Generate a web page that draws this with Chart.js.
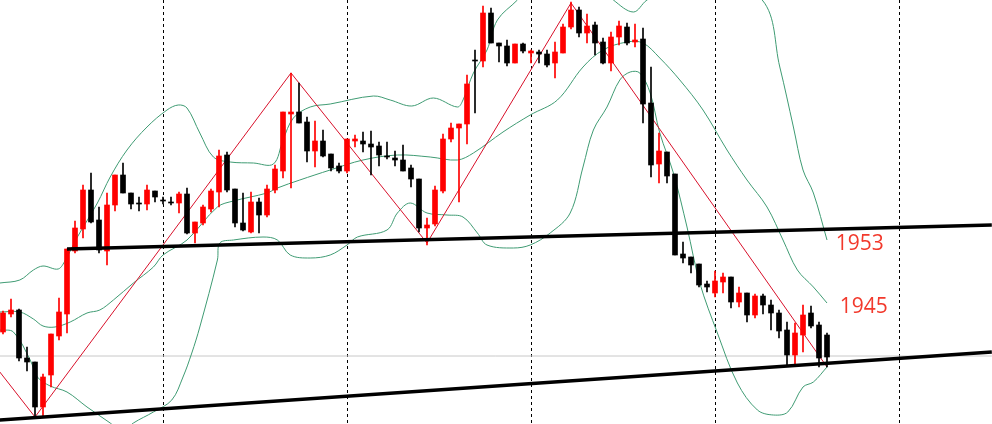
<!DOCTYPE html>
<html><head><meta charset="utf-8">
<script src="https://cdn.jsdelivr.net/npm/chart.js@4"></script>
<style>html,body{margin:0;padding:0;background:#fff}#w{width:992px;height:424px}</style>
</head><body><div id="w"><canvas id="c"></canvas></div>
<script>
// Price levels (axis runs downward, top = 0)
const openP  = [332,314,310,358,362,407,375,336,314,251,229,190,220,251,205,175,193,203,204,191,200,202,203,194,233,223,209,192,155,189,223,232,202,215,190,171,114,112,122,151,141,154,166,171,141,141,144,146,156,158,160,168,179,228,224,191,139,128,124,60,61,13,43,46,63,44,53,52,54,63,53,27,10,33,25,42,63,37,27,42,39,103,164,152,174,254,257,264,284,293,282,277,302,293,315,296,305,313,330,355,335,313,325,335];
const highP  = [311,299,309,347,362,374,334,298,249,221,185,173,207,193,175,163,193,197,185,191,197,197,192,188,222,205,189,150,152,189,193,192,198,185,165,112,73,83,117,121,130,154,163,139,135,132,131,142,142,151,145,165,179,218,186,134,123,124,75,50,6,8,43,40,44,43,50,50,50,42,24,2,7,14,22,38,32,21,23,24,28,67,133,152,174,242,257,264,281,271,273,277,287,293,294,294,300,310,322,323,305,306,322,333];
const lowP   = [334,317,361,371,417,417,387,340,333,253,238,223,253,265,211,193,209,211,210,202,204,205,213,234,243,225,212,207,192,227,231,233,233,217,193,178,188,123,162,167,157,171,173,173,147,152,175,166,159,166,171,187,232,245,226,193,142,202,144,113,67,43,62,66,63,53,63,63,67,78,53,29,37,43,55,64,71,45,45,47,123,177,183,183,255,263,273,287,292,297,293,308,307,322,318,314,330,338,365,365,352,328,367,367];
const closeP = [313,310,358,362,407,377,334,312,249,228,190,222,250,205,175,193,204,204,190,197,201,203,194,233,222,207,191,156,190,223,230,202,215,189,169,112,112,123,151,141,156,168,171,139,139,144,147,155,157,160,171,179,228,225,190,139,128,124,84,61,13,43,46,63,44,51,51,54,65,52,27,10,33,26,43,63,37,26,43,40,104,165,151,176,255,258,265,285,287,281,277,302,293,315,296,305,313,331,355,333,315,326,358,357];

// Bollinger bands: [candle index, level]
const bandUpper = [[-0.4,283],[2.1,280],[3.8,270],[5,266],[6.9,269],[7.8,260],[9.3,237],[11.8,203],[13.4,177],[15.5,150],[18,127],[20.5,110],[21.9,105],[23,108],[24.6,133],[26.3,157],[28.4,162],[31.3,163],[33.8,164],[35,140],[36.3,118],[38.4,107],[40.9,104],[46.3,96],[48.4,100],[51.1,106],[53.8,98],[56.8,107],[57.5,100],[58.8,73],[60.5,50],[61.8,20],[64.3,0],[67.1,-25],[72,-30],[76.3,0],[78.8,12],[80.5,0],[86.8,-30],[94.9,0],[97.1,67],[98.8,127],[100,170],[101.3,193],[103,240]];
const bandMiddle = [[-0.4,312],[2.1,312],[3.8,319],[5,326],[6.5,327],[8.4,322],[10.5,313],[12.1,310],[13.8,300],[16.3,283],[18.8,267],[20,255],[23,240],[26.8,207],[28.8,201],[33,193],[34.3,188],[37.1,180],[40.9,170],[45,160],[49.3,155],[53.4,157],[56.8,160],[58.8,153],[62.5,132],[65.9,115],[69.3,100],[72.5,67],[75,50],[78,42],[80,43],[82.1,58],[84.6,80],[87.5,110],[90.5,150],[93,180],[95.5,207],[97.5,240],[99.3,270],[101.3,287],[103,303]];
const bandLower = [[-0.4,330],[1.3,332],[3.4,360],[4.3,377],[5.9,386],[8,392],[10.5,407],[13.4,423],[14.9,432],[16.3,423],[18.8,412],[21.1,400],[22.5,377],[23.6,353],[24.6,327],[26.8,260],[27.1,243],[28.8,240],[32.5,237],[34.3,240],[35.9,255],[38.4,258],[40.9,255],[43,245],[44.3,237],[48,230],[49.3,213],[50.9,203],[53,213],[55.5,215],[57.5,217],[59.3,233],[60.5,245],[63.8,248],[65.9,245],[68.4,233],[70.9,213],[72.5,167],[73.8,130],[75.5,107],[77.1,80],[78.4,72],[79.6,73],[80.9,93],[82.1,133],[83.8,173],[85.5,227],[87.1,283],[89.3,333],[91.8,383],[94.3,410],[96.3,415],[98.1,412],[100,387],[101.3,382],[103,367]];
const zigzag = [[-0.4,372],[4,417],[36,73],[53,243],[71,3],[103,367]];
const upperTrend = [[8,249],[123.6,225]];
const lowerTrend = [[-0.4,420],[123.6,352]];
const refLevel = 356;
const gridIdx = [20,43,66,89,112];
const notes = [{text:'1953', x:104.1, y:244},{text:'1945', x:104.6, y:307}];

const idx = openP.map((_, i) => i);
const pts = a => a.map(p => ({x:p[0], y:p[1]}));
const up = i => closeP[i] < openP[i];
const col = ctx => up(ctx.dataIndex) ? '#ff0000' : '#000000';

const notePlugin = {
  id:'notes',
  afterDatasetsDraw(chart){
    const c = chart.ctx, xs = chart.scales.x, ys = chart.scales.y;
    c.save(); c.fillStyle = '#f2392c'; c.font = '21px "Open Sans"'; c.textBaseline = 'middle';
    notes.forEach(n => c.fillText(n.text, xs.getPixelForValue(n.x), ys.getPixelForValue(n.y)));
    c.restore();
  }
};

const line = (data, color, width, order) => ({type:'line', data:pts(data), borderColor:color, borderWidth:width, pointRadius:0, tension:0, order, fill:false});

new Chart(document.getElementById('c'), {
  type:'bar',
  data:{datasets:[
    {type:'bar', data:idx.map(i => ({x:i, y:[openP[i], closeP[i]]})), backgroundColor:col, barThickness:5, minBarLength:1, grouped:false, order:1},
    {type:'bar', data:idx.map(i => ({x:i, y:[highP[i], lowP[i]]})), backgroundColor:col, barThickness:1, grouped:false, order:2},
    line(upperTrend, '#000', 3.5, 0),
    line(lowerTrend, '#000', 3.5, 0),
    line([[-0.4,refLevel],[123.6,refLevel]], '#c8c8c8', 1, 6),
    Object.assign(line(bandUpper, '#3f9b73', 1, 5), {tension:0.35}),
    Object.assign(line(bandMiddle, '#3f9b73', 1, 5), {tension:0.35}),
    Object.assign(line(bandLower, '#3f9b73', 1, 5), {tension:0.35}),
    line(zigzag, '#d8102a', 1, 3)
  ]},
  options:{
    responsive:true, maintainAspectRatio:false, animation:false,
    layout:{padding:0},
    plugins:{legend:{display:false}, tooltip:{enabled:false}},
    scales:{
      x:{type:'linear', min:-0.375, max:123.625, offset:false,
         afterBuildTicks: s => { s.ticks = gridIdx.map(v => ({value:v})); },
         ticks:{display:false}, grid:{color:'#000', lineWidth:1, drawTicks:false, tickLength:0, offset:false},
         border:{display:false, dash:[3,3]}},
      y:{reverse:true, min:0, max:424, display:false}
    }
  },
  plugins:[notePlugin]
});
</script></body></html>
